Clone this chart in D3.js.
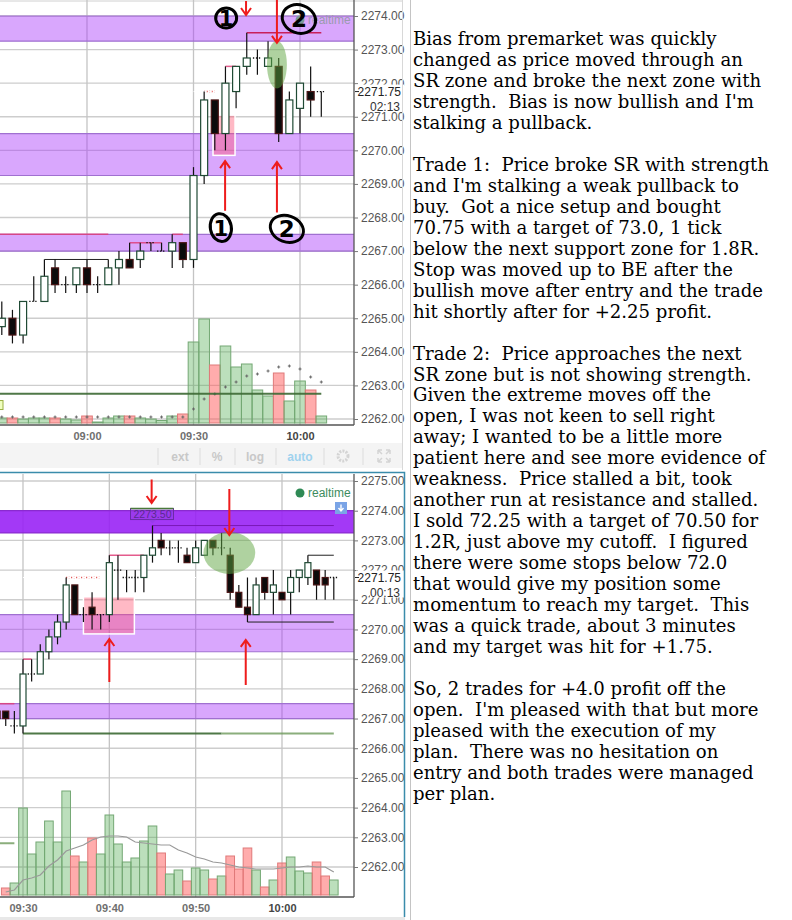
<!DOCTYPE html>
<html>
<head>
<meta charset="utf-8">
<script src="https://cdn.jsdelivr.net/npm/d3@7"></script>
<style>
    body { margin: 0; background: #fff; }
    svg { display: block; }
</style>
</head>
<body>
<svg id="pic" width="792" height="920"></svg>
<script>
// ---- data ----
const tm = s => { const p = s.split(':'); return +p[0] * 60 + +p[1]; };

// 3 minute bars, top chart: [time, open, high, low, close]
const topCandles = [
    ['08:36', 2264.75, 2265.5, 2264.5, 2265.0],
    ['08:39', 2265.0, 2265.25, 2264.25, 2264.5],
    ['08:42', 2264.5, 2265.5, 2264.25, 2265.5],
    ['08:45', 2265.5, 2266.25, 2265.5, 2265.5],
    ['08:48', 2265.5, 2266.75, 2265.5, 2266.25],
    ['08:51', 2266.5, 2266.75, 2265.75, 2266.0],
    ['08:54', 2266.0, 2266.25, 2265.75, 2266.0],
    ['08:57', 2266.0, 2266.5, 2265.75, 2266.5],
    ['09:00', 2266.5, 2266.75, 2265.75, 2266.0],
    ['09:03', 2266.0, 2266.25, 2265.75, 2266.0],
    ['09:06', 2266.0, 2266.75, 2266.0, 2266.5],
    ['09:09', 2266.5, 2267.0, 2266.0, 2266.75],
    ['09:12', 2266.75, 2267.25, 2266.5, 2266.5],
    ['09:15', 2266.75, 2267.25, 2266.5, 2267.0],
    ['09:18', 2267.25, 2267.25, 2267.0, 2267.25],
    ['09:21', 2267.0, 2267.25, 2267.0, 2267.0],
    ['09:24', 2267.0, 2267.5, 2266.5, 2267.25],
    ['09:27', 2267.25, 2267.25, 2266.5, 2266.75],
    ['09:30', 2266.75, 2269.5, 2266.5, 2269.25],
    ['09:33', 2269.25, 2271.75, 2269.0, 2271.5],
    ['09:36', 2271.5, 2271.5, 2270.0, 2270.5],
    ['09:39', 2270.5, 2272.5, 2270.0, 2272.0],
    ['09:42', 2271.75, 2272.5, 2271.25, 2272.5],
    ['09:45', 2272.5, 2273.5, 2272.25, 2272.75],
    ['09:48', 2272.75, 2273.0, 2272.25, 2272.75],
    ['09:51', 2272.5, 2273.25, 2272.5, 2272.75],
    ['09:54', 2272.5, 2272.75, 2270.25, 2270.5],
    ['09:57', 2270.5, 2271.75, 2270.5, 2271.5],
    ['10:00', 2271.25, 2272.0, 2270.5, 2272.0],
    ['10:03', 2271.75, 2272.5, 2271.0, 2271.5],
    ['10:06', 2271.75, 2271.75, 2271.0, 2271.75]
];
const topVolume = [0.5, 0.5, 0.4, 0.5, 0.5, 0.5, 0.4, 0.3, 0.7, 0.1, 0.5, 0.7, 0.7, 0.5, 0.4, 0.25,
    0.7, 0.9, 8.1, 10.4, 5.8, 7.7, 5.6, 5.9, 3.3, 2.7, 5.0, 2.2, 4.2, 3.3, 0.7];
const topVolAvg = [0.6, 0.6, 0.6, 0.6, 0.6, 0.6, 0.6, 0.6, 0.6, 0.6, 0.6, 0.6, 0.6, 0.6, 0.6, 0.6,
    0.6, 0.6, 1.4, 2.4, 2.9, 3.6, 4.1, 4.7, 4.9, 5.2, 5.6, 5.7, 5.4, 4.6, 4.1];

// 1 minute bars, bottom chart
const bottomCandles = [
    ['09:27', 2267.25, 2267.25, 2267.0, 2267.0],
    ['09:28', 2267.25, 2267.25, 2266.75, 2267.0],
    ['09:29', 2266.75, 2267.25, 2266.5, 2266.75],
    ['09:30', 2266.75, 2269.0, 2266.5, 2268.5],
    ['09:31', 2268.5, 2269.0, 2268.25, 2268.5],
    ['09:32', 2268.5, 2269.5, 2268.5, 2269.25],
    ['09:33', 2269.25, 2270.0, 2269.0, 2269.75],
    ['09:34', 2269.75, 2270.5, 2269.5, 2270.25],
    ['09:35', 2270.25, 2271.75, 2270.0, 2271.5],
    ['09:36', 2271.5, 2271.5, 2270.5, 2270.5],
    ['09:37', 2270.5, 2270.75, 2270.25, 2270.5],
    ['09:38', 2270.75, 2271.25, 2270.0, 2270.5],
    ['09:39', 2270.5, 2270.5, 2270.0, 2270.5],
    ['09:40', 2270.5, 2272.5, 2270.25, 2272.25],
    ['09:41', 2272.0, 2272.5, 2271.0, 2272.0],
    ['09:42', 2271.75, 2272.0, 2271.25, 2271.75],
    ['09:43', 2271.75, 2272.0, 2271.25, 2271.75],
    ['09:44', 2271.75, 2272.5, 2271.25, 2272.5],
    ['09:45', 2272.5, 2273.5, 2272.25, 2272.75],
    ['09:46', 2273.0, 2273.25, 2272.5, 2272.75],
    ['09:47', 2272.75, 2273.0, 2272.5, 2272.75],
    ['09:48', 2272.75, 2273.0, 2272.25, 2272.75],
    ['09:49', 2272.5, 2272.75, 2272.25, 2272.25],
    ['09:50', 2272.25, 2273.0, 2272.25, 2272.75],
    ['09:51', 2272.5, 2273.0, 2272.5, 2273.0],
    ['09:52', 2273.0, 2273.0, 2272.5, 2272.75],
    ['09:53', 2272.75, 2273.25, 2272.5, 2272.75],
    ['09:54', 2272.5, 2272.75, 2271.0, 2271.25],
    ['09:55', 2271.25, 2271.5, 2270.75, 2270.75],
    ['09:56', 2270.75, 2271.75, 2270.25, 2270.5],
    ['09:57', 2270.5, 2271.75, 2270.5, 2271.5],
    ['09:58', 2271.75, 2271.75, 2271.0, 2271.25],
    ['09:59', 2271.25, 2272.0, 2270.5, 2271.5],
    ['10:00', 2271.25, 2271.25, 2271.0, 2271.0],
    ['10:01', 2271.25, 2272.0, 2270.5, 2271.75],
    ['10:02', 2271.75, 2272.0, 2271.25, 2272.0],
    ['10:03', 2271.75, 2272.5, 2271.5, 2272.25],
    ['10:04', 2272.0, 2272.0, 2271.0, 2271.5],
    ['10:05', 2271.75, 2272.0, 2271.0, 2271.5],
    ['10:06', 2271.75, 2271.75, 2271.0, 2271.75]
];
// volume starts at 09:28
const bottomVolume = [0.7, 1.2, 8.7, 4.1, 5.3, 7.4, 5.3, 10.4, 3.9, 3.3, 5.7, 4.1, 8.0, 5.1, 3.3, 3.7,
    5.4, 6.9, 4.2, 2.1, 2.5, 1.4, 2.7, 2.5, 1.6, 1.9, 3.9, 2.6, 4.7, 2.5, 0.8, 1.5, 3.2, 3.8, 2.4,
    2.2, 3.3, 1.9, 1.5];
const bottomVolAvg = [0.3, 0.5, 1.5, 1.7, 2.0, 2.9, 3.5, 4.4, 4.7, 5.0, 5.5, 5.8, 5.9, 5.9, 5.8, 5.3,
    5.2, 5.1, 5.0, 5.0, 4.5, 4.2, 3.8, 3.6, 3.3, 3.2, 3.0, 2.8, 2.7, 2.6, 2.6, 2.6, 2.7, 2.8, 2.8,
    2.9, 2.8, 2.8, 2.3];

// support / resistance zones [top, bottom]
const topZones = [[2274.0, 2273.25], [2270.5, 2269.25], [2267.5, 2267.0]];
const bottomZones = [[2274.0, 2273.25], [2270.5, 2269.25], [2267.5, 2267.0]];

// level lines [from, to, price, kind]
const topLevels = [
    ['08:35', '09:06', 2267.5, 'pink'],
    ['09:24', '09:27', 2267.5, 'pink'],
    ['09:12', '09:21', 2267.25, 'pink'],
    ['08:48', '09:06', 2266.75, 'black'],
    ['09:33', '09:36', 2271.75, 'dots'],
    ['09:39', '09:42', 2272.5, 'pink'],
    ['09:45', '10:06', 2273.5, 'crimson'],
    ['08:35', '10:06', 2262.75, 'darkgreen']
];
const bottomLevels = [
    ['09:27', '09:29', 2267.5, 'pink'],
    ['09:30', '09:31', 2269.0, 'pink'],
    ['09:35', '09:39', 2271.75, 'dots'],
    ['09:40', '09:44', 2272.5, 'pink'],
    ['09:45', '10:06', 2273.5, 'violet'],
    ['09:56', '10:06', 2270.25, 'black'],
    ['10:03', '10:06', 2272.5, 'black'],
    ['09:30', '09:53', 2266.5, 'darkgreen'],
    ['09:53', '10:06', 2266.5, 'green'],
    ['09:27', '09:29', 2262.8, 'green']
];

const topPriceTicks = [2262, 2263, 2264, 2265, 2266, 2267, 2268, 2269, 2270, 2271, 2272, 2273, 2274];
const bottomPriceTicks = [2262, 2263, 2264, 2265, 2266, 2267, 2268, 2269, 2270, 2271, 2272, 2273, 2274, 2275];
const topTimeTicks = ['09:00', '09:30', '10:00'];
const bottomTimeTicks = ['09:30', '09:40', '09:50', '10:00'];

// annotations: entry boxes [t0, t1, priceTop, priceBottom], ellipses [t, price, halfMinutes, halfPrice]
const topEntryBox = [575.5, 581.7, 2271.05, 2269.85];
const bottomEntryBox = [577.0, 582.9, 2271.1, 2269.85];
const topEllipse = [593.5, 2272.55, 2.8, 0.71];
const bottomEllipse = [593.9, 2272.58, 3.0, 0.71];
// arrows [t, tailPrice, tipPrice]
const topArrows = [[584.8, 2274.45, 2274.03], [593.5, 2274.5, 2273.2], [578.9, 2268.2, 2269.68], [593.5, 2268.15, 2269.65]];
const bottomArrows = [[584.9, 2275.05, 2274.26], [593.9, 2274.73, 2273.18], [580.0, 2268.23, 2269.68], [595.8, 2268.13, 2269.65]];
// hand-drawn circled numbers [label, t, price]
const topMarks = [['1', 579.2, 2273.94], ['2', 599.7, 2273.91], ['1', 577.7, 2267.7], ['2', 596.3, 2267.66]];

const lastPrice = 2271.75;

const noteLines = [
    "Bias from premarket was quickly",
    "changed as price moved through an",
    "SR zone and broke the next zone with",
    "strength.  Bias is now bullish and I'm",
    "stalking a pullback.",
    "",
    "Trade 1:  Price broke SR with strength",
    "and I'm stalking a weak pullback to",
    "buy.  Got a nice setup and bought",
    "70.75 with a target of 73.0, 1 tick",
    "below the next support zone for 1.8R.",
    "Stop was moved up to BE after the",
    "bullish move after entry and the trade",
    "hit shortly after for +2.25 profit.",
    "",
    "Trade 2:  Price approaches the next",
    "SR zone but is not showing strength.",
    "Given the extreme moves off the",
    "open, I was not keen to sell right",
    "away; I wanted to be a little more",
    "patient here and see more evidence of",
    "weakness.  Price stalled a bit, took",
    "another run at resistance and stalled.",
    "I sold 72.25 with a target of 70.50 for",
    "1.2R, just above my cutoff.  I figured",
    "there were some stops below 72.0",
    "that would give my position some",
    "momentum to reach my target.  This",
    "was a quick trade, about 3 minutes",
    "and my target was hit for +1.75.",
    "",
    "So, 2 trades for +4.0 profit off the",
    "open.  I'm pleased with that but more",
    "pleased with the execution of my",
    "plan.  There was no hesitation on",
    "entry and both trades were managed",
    "per plan."
];

// ---- layout ----
const AXIS_X = 354;
const SANS = 'Liberation Sans, Arial, sans-serif';
const fmtTime = m => String(Math.floor(m / 60)).padStart(2, '0') + ':' + String(m % 60).padStart(2, '0');
const LEVEL_STYLE = {
    pink: { stroke: '#e0407a', width: 1.5, dash: null, opacity: 0.85 },
    crimson: { stroke: '#c8205a', width: 1.5, dash: null, opacity: 1 },
    black: { stroke: '#222', width: 1, dash: null, opacity: 1 },
    dots: { stroke: '#e04040', width: 1.5, dash: '1,1.5', opacity: 1 },
    violet: { stroke: '#7a18b8', width: 1, dash: null, opacity: 1 },
    green: { stroke: '#6f9a5c', width: 2, dash: null, opacity: 0.8 },
    darkgreen: { stroke: '#3d6a34', width: 2, dash: null, opacity: 0.9 }
};

const svg = d3.select('#pic');
svg.append('rect').attr('width', 792).attr('height', 920).attr('fill', '#fff');

const defs = svg.append('defs');

function drawChart(cfg) {
    const { x, y, yVol, top, bottom, candles, volume, volAvg, avgAsLine, zones, darkTopZone,
        levels, priceTicks, timeTicks, entryBox, ellipse, arrows, bodyW, id } = cfg;
    const spacing = x(cfg.barMinutes) - x(0);

    defs.append('clipPath').attr('id', id)
        .append('rect').attr('x', 0).attr('y', top).attr('width', AXIS_X).attr('height', bottom - top);

    const g = svg.append('g');
    const plot = g.append('g').attr('clip-path', `url(#${id})`);

    // grid
    plot.selectAll('.hgrid').data(priceTicks).enter().append('line')
        .attr('x1', 0).attr('x2', AXIS_X)
        .attr('y1', d => y(d)).attr('y2', d => y(d))
        .attr('stroke', '#cdcdcd').attr('stroke-width', 1.3);
    plot.selectAll('.vgrid').data(timeTicks).enter().append('line')
        .attr('x1', d => x(tm(d))).attr('x2', d => x(tm(d)))
        .attr('y1', top).attr('y2', bottom)
        .attr('stroke', '#c4c4c4').attr('stroke-width', 1.3);

    // zones
    zones.forEach((z, i) => {
        const dark = darkTopZone && i === 0;
        plot.append('rect')
            .attr('x', 0).attr('width', AXIS_X)
            .attr('y', y(z[0])).attr('height', y(z[1]) - y(z[0]))
            .attr('fill', dark ? 'rgba(150,30,245,0.88)' : 'rgba(170,60,250,0.45)');
        [z[0], z[1]].forEach(p => {
            plot.append('line').attr('x1', 0).attr('x2', AXIS_X)
                .attr('y1', y(p)).attr('y2', y(p))
                .attr('stroke', dark ? '#8a2ad0' : '#a070d0').attr('stroke-width', 1.2);
        });
    });

    // volume
    const volOffset = candles.length - volume.length;
    const volData = volume.map((v, i) => ({ v, c: candles[i + volOffset], a: volAvg[i] }));
    plot.selectAll('.vol').data(volData).enter().append('rect')
        .attr('x', d => x(tm(d.c[0])) - spacing / 2)
        .attr('width', spacing)
        .attr('y', d => yVol(d.v))
        .attr('height', d => yVol(0) - yVol(d.v))
        .attr('fill', d => d.c[4] < d.c[1] ? 'rgba(255,90,90,0.5)' : 'rgba(80,170,80,0.38)')
        .attr('stroke', d => d.c[4] < d.c[1] ? '#e07a7a' : '#74a874')
        .attr('stroke-width', 1);

    if (avgAsLine) {
        plot.append('path')
            .datum(volData)
            .attr('d', d3.line().x(d => x(tm(d.c[0]))).y(d => yVol(d.a)))
            .attr('fill', 'none').attr('stroke', '#999').attr('stroke-width', 1.2);
    } else {
        const marks = plot.selectAll('.avg').data(volData).enter().append('g')
            .attr('transform', d => `translate(${x(tm(d.c[0]))},${yVol(d.a)})`);
        marks.append('path').attr('d', 'M-1.5,0H1.5M0,-1.5V1.5')
            .attr('stroke', '#666').attr('stroke-width', 1);
    }

    // level lines
    levels.forEach(l => {
        const s = LEVEL_STYLE[l[3]];
        plot.append('line')
            .attr('x1', x(tm(l[0]))).attr('x2', x(tm(l[1])))
            .attr('y1', y(l[2])).attr('y2', y(l[2]))
            .attr('stroke', s.stroke).attr('stroke-width', s.width)
            .attr('stroke-dasharray', s.dash).attr('opacity', s.opacity);
    });

    // entry box
    plot.append('rect')
        .attr('x', x(entryBox[0])).attr('width', x(entryBox[1]) - x(entryBox[0]))
        .attr('y', y(entryBox[2])).attr('height', y(entryBox[3]) - y(entryBox[2]))
        .attr('fill', 'rgba(255,80,110,0.4)')
        .attr('stroke', '#fff').attr('stroke-width', 1.5);

    // last price line
    plot.append('line')
        .attr('x1', x(tm('09:30'))).attr('x2', AXIS_X)
        .attr('y1', y(lastPrice)).attr('y2', y(lastPrice))
        .attr('stroke', '#fff').attr('stroke-width', 1).attr('stroke-dasharray', '3,2');

    // candles
    const cg = plot.selectAll('.candle').data(candles).enter().append('g');
    cg.append('line')
        .attr('x1', d => x(tm(d[0]))).attr('x2', d => x(tm(d[0])))
        .attr('y1', d => y(d[2])).attr('y2', d => y(d[3]))
        .attr('stroke', '#111').attr('stroke-width', 1.2);
    cg.filter(d => d[1] === d[4]).append('line')
        .attr('x1', d => x(tm(d[0])) - bodyW / 2 - 1).attr('x2', d => x(tm(d[0])) + bodyW / 2 + 1)
        .attr('y1', d => y(d[1])).attr('y2', d => y(d[1]))
        .attr('stroke', '#111').attr('stroke-width', 1.3).attr('stroke-dasharray', '1.3,1.7');
    cg.filter(d => d[1] !== d[4]).append('rect')
        .attr('x', d => x(tm(d[0])) - bodyW / 2)
        .attr('width', bodyW)
        .attr('y', d => y(Math.max(d[1], d[4])))
        .attr('height', d => Math.abs(y(d[1]) - y(d[4])))
        .attr('fill', d => d[4] > d[1] ? '#fff' : '#0b0b0b')
        .attr('stroke', d => d[4] > d[1] ? '#1f4a34' : '#4a1414')
        .attr('stroke-width', 1.2);

    // green ellipse
    plot.append('ellipse')
        .attr('cx', x(ellipse[0])).attr('cy', y(ellipse[1]))
        .attr('rx', x(ellipse[2]) - x(0)).attr('ry', y(0) - y(ellipse[3]))
        .attr('fill', 'rgba(95,165,65,0.5)');

    // arrows
    arrows.forEach(a => {
        const ax = x(a[0]), y0 = y(a[1]), y1 = y(a[2]);
        const dir = y1 > y0 ? -1 : 1;
        plot.append('path')
            .attr('d', `M${ax},${y0}L${ax},${y1}M${ax - 5},${y1 + dir * 7}L${ax},${y1}L${ax + 5},${y1 + dir * 7}`)
            .attr('fill', 'none').attr('stroke', '#ee1c1c').attr('stroke-width', 2);
    });

    // axes
    g.append('line').attr('x1', AXIS_X).attr('x2', AXIS_X).attr('y1', top).attr('y2', bottom)
        .attr('stroke', '#555').attr('stroke-width', 1.3);
    g.append('line').attr('x1', 0).attr('x2', AXIS_X).attr('y1', bottom).attr('y2', bottom)
        .attr('stroke', '#555').attr('stroke-width', 1.3);

    const yAxis = g.append('g').attr('transform', `translate(${AXIS_X},0)`)
        .call(d3.axisRight(y).tickValues(priceTicks).tickFormat(d3.format('.2f')).tickSize(4).tickPadding(3));
    yAxis.select('.domain').remove();
    yAxis.selectAll('line').attr('stroke', '#777');
    yAxis.selectAll('text').attr('fill', '#555').style('font', `12px ${SANS}`);

    const xAxis = g.append('g').attr('transform', `translate(0,${bottom})`)
        .call(d3.axisBottom(x).tickValues(timeTicks.map(tm)).tickFormat(fmtTime).tickSize(0).tickPadding(7));
    xAxis.select('.domain').remove();
    xAxis.selectAll('text')
        .attr('fill', d => d === tm('10:00') ? '#444' : '#6f6f6f')
        .style('font', `bold 11px ${SANS}`);

    // last price / countdown labels
    const lp = y(lastPrice);
    g.append('rect').attr('x', AXIS_X + 2).attr('y', lp - 7).attr('width', 48).attr('height', 14).attr('fill', '#fff');
    g.append('line').attr('x1', AXIS_X + 1).attr('x2', AXIS_X + 5).attr('y1', lp).attr('y2', lp).attr('stroke', '#222');
    g.append('text').attr('x', 401).attr('y', lp + 4).attr('text-anchor', 'end')
        .attr('fill', '#222').style('font', `12px ${SANS}`).text('2271.75');
    g.append('rect').attr('x', 370).attr('y', lp + 8).attr('width', 34).attr('height', 12).attr('fill', '#fff');
    g.append('text').attr('x', 400).attr('y', lp + 19).attr('text-anchor', 'end')
        .attr('fill', '#333').style('font', `12px ${SANS}`).text(cfg.countdown);

    return { g, plot };
}

// ---- top chart ----
const topX = d3.scaleLinear().domain([tm('09:00'), tm('10:00')]).range([87, 300]);
const topY = d3.scaleLinear().domain([2262, 2274]).range([419, 16]);
const topVolY = d3.scaleLinear().domain([0, 10]).range([423, 323]);

svg.append('line').attr('x1', 0).attr('x2', 403).attr('y1', 1).attr('y2', 1).attr('stroke', '#d0d0d0');

const topChart = drawChart({
    id: 'clipTop', x: topX, y: topY, yVol: topVolY, top: 0, bottom: 425, barMinutes: 3,
    candles: topCandles, volume: topVolume, volAvg: topVolAvg, avgAsLine: false,
    zones: topZones, darkTopZone: false, levels: topLevels,
    priceTicks: topPriceTicks, timeTicks: topTimeTicks,
    entryBox: topEntryBox, ellipse: topEllipse, arrows: topArrows, bodyW: 7, countdown: '02:13'
});

// faded realtime label and small marker at left
topChart.plot.append('circle').attr('cx', 300).attr('cy', 20).attr('r', 4.5).attr('fill', '#7a9a9a');
topChart.plot.append('text').attr('x', 308).attr('y', 24).attr('fill', '#9a9aae')
    .style('font', `12px ${SANS}`).text('realtime');
topChart.plot.append('rect').attr('x', -4).attr('y', topY(2262.55)).attr('width', 7).attr('height', 9)
    .attr('fill', '#f0ffc0').attr('stroke', '#9ab040');

// hand drawn circled numbers
topMarks.forEach((m, i) => {
    const cx = topX(m[1]), cy = topY(m[2]);
    const big = m[0] === '2';
    const upper = i < 2;
    topChart.g.append('ellipse')
        .attr('cx', cx).attr('cy', cy)
        .attr('rx', big ? 17 : 10.5).attr('ry', big ? (upper ? 14 : 13) : (upper ? 10 : 14))
        .attr('transform', `rotate(${big ? 20 : -10},${cx},${cy})`)
        .attr('fill', 'none').attr('stroke', '#000').attr('stroke-width', 3);
    topChart.g.append('text').attr('x', cx).attr('y', cy + 8)
        .attr('text-anchor', 'middle').attr('fill', '#000')
        .style('font', `bold ${big ? 23 : 21}px DejaVu Sans, sans-serif`).text(m[0]);
});

// ---- toolbar ----
const bar = svg.append('g');
bar.append('rect').attr('x', 0).attr('y', 443).attr('width', 402).attr('height', 25).attr('fill', '#f4f4f4');
[158, 200, 235, 276, 324, 363].forEach(sx => {
    bar.append('line').attr('x1', sx).attr('x2', sx).attr('y1', 448).attr('y2', 465).attr('stroke', '#dcdcdc');
});
[['ext', 180, '#c8c8c8'], ['%', 217, '#c8c8c8'], ['log', 255, '#c8c8c8'], ['auto', 300, '#9fd2ee']].forEach(t => {
    bar.append('text').attr('x', t[1]).attr('y', 461).attr('text-anchor', 'middle')
        .attr('fill', t[2]).style('font', `bold 12px ${SANS}`).text(t[0]);
});
bar.append('circle').attr('cx', 343).attr('cy', 456).attr('r', 5).attr('fill', 'none')
    .attr('stroke', '#d4d4d4').attr('stroke-width', 3).attr('stroke-dasharray', '2,1.2');
bar.append('path')
    .attr('d', 'M378,450h4M378,450v4M378,450l4,4M390,450h-4M390,450v4M390,450l-4,4M378,462h4M378,462v-4M378,462l4,-4M390,462h-4M390,462v-4M390,462l-4,-4')
    .attr('stroke', '#d4d4d4').attr('stroke-width', 1.5).attr('fill', 'none');
svg.append('line').attr('x1', 402.5).attr('x2', 402.5).attr('y1', 0).attr('y2', 470).attr('stroke', '#d8d8d8');

// ---- bottom chart ----
const botX = d3.scaleLinear().domain([tm('09:30'), tm('10:00')]).range([23, 282]);
const botY = d3.scaleLinear().domain([2262, 2275]).range([867, 481]);
const botVolY = d3.scaleLinear().domain([0, 10]).range([895, 795]);

const bottomChart = drawChart({
    id: 'clipBottom', x: botX, y: botY, yVol: botVolY, top: 474, bottom: 897, barMinutes: 1,
    candles: bottomCandles, volume: bottomVolume, volAvg: bottomVolAvg, avgAsLine: true,
    zones: bottomZones, darkTopZone: true, levels: bottomLevels,
    priceTicks: bottomPriceTicks, timeTicks: bottomTimeTicks,
    entryBox: bottomEntryBox, ellipse: bottomEllipse, arrows: bottomArrows, bodyW: 6, countdown: '00:13'
});

// price tag on the high
const tagX = botX(585), tagY = botY(2273.5);
bottomChart.plot.append('rect').attr('x', tagX - 22).attr('y', tagY - 17).attr('width', 43).attr('height', 11)
    .attr('fill', 'rgba(140,60,220,0.35)').attr('stroke', '#6a2aa8').attr('stroke-width', 1);
bottomChart.plot.append('line').attr('x1', tagX - 22).attr('x2', tagX + 21).attr('y1', tagY - 17).attr('y2', tagY - 17)
    .attr('stroke', '#4a7a3a').attr('stroke-width', 1.5);
bottomChart.plot.append('path').attr('d', `M${tagX - 4},${tagY - 6}L${tagX},${tagY - 2}L${tagX + 4},${tagY - 6}`)
    .attr('fill', 'rgba(140,60,220,0.5)');
bottomChart.plot.append('text').attr('x', tagX).attr('y', tagY - 8).attr('text-anchor', 'middle')
    .attr('fill', '#5a2a90').style('font', `10.5px ${SANS}`).text('2273.50');

// realtime + icon
bottomChart.g.append('circle').attr('cx', 300).attr('cy', 493).attr('r', 4.5).attr('fill', '#2f8a55');
bottomChart.g.append('text').attr('x', 308).attr('y', 497).attr('fill', '#3c8c5e')
    .style('font', `12px ${SANS}`).text('realtime');
bottomChart.g.append('rect').attr('x', 335).attr('y', 502).attr('width', 12).attr('height', 12).attr('fill', '#7aa4e6');
bottomChart.g.append('path').attr('d', 'M341,504.5v6M338.5,508l2.5,3l2.5,-3')
    .attr('stroke', '#fff').attr('stroke-width', 1.4).attr('fill', 'none');

// panel frame
svg.append('path').attr('d', 'M0,472.5H404.5V917').attr('fill', 'none').attr('stroke', '#3a8cab').attr('stroke-width', 1.5);
svg.append('rect').attr('x', 0).attr('y', 917).attr('width', 405).attr('height', 3).attr('fill', '#e8e8e8');

// ---- notes ----
svg.append('line').attr('x1', 410.5).attr('x2', 410.5).attr('y1', 0).attr('y2', 920).attr('stroke', '#c4c4c4');
const notes = svg.append('g');
const noteText = notes.selectAll('text').data(noteLines).enter().append('text')
    .attr('x', 413).attr('y', (d, i) => 45 + i * 20.97)
    .attr('fill', '#000')
    .style('white-space', 'pre')
    .style('font-family', 'DejaVu Serif, serif')
    .style('font-size', '16px')
    .text(d => d);
// fit the serif font so the widest reference line spans the same width as in the screenshot
const refLen = noteText.filter((d, i) => i === 6).node().getComputedTextLength();
noteText.style('font-size', (16 * 356 / refLen).toFixed(2) + 'px');
</script>
</body>
</html>
